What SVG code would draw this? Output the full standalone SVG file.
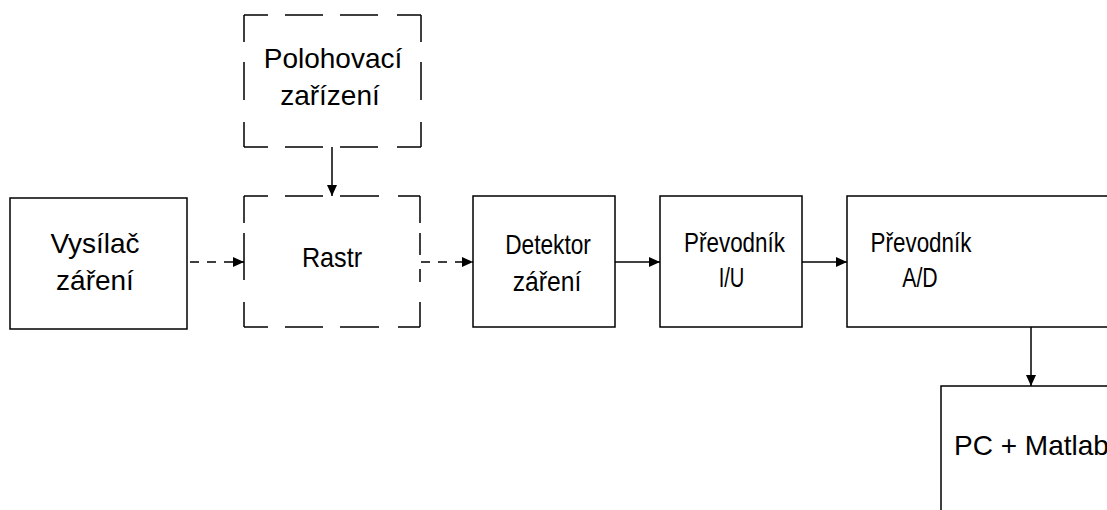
<svg xmlns="http://www.w3.org/2000/svg" width="1107" height="510" viewBox="0 0 1107 510">
<style>
.box{fill:#fff;stroke:#000;stroke-width:1.5}
.dbox{fill:none;stroke:#000;stroke-width:1.5}
.t{font-family:"Liberation Sans",Arial,sans-serif;font-size:28px;fill:#000;text-anchor:middle}
.c{fill:none;stroke:#000;stroke-width:1.5}
.dash{stroke-dasharray:9 8}
</style>
<defs>
<marker id="ah" viewBox="0 0 11 10" refX="11" refY="5" markerWidth="11" markerHeight="10" orient="auto" markerUnits="userSpaceOnUse"><path d="M0,0 L11,5 L0,10 z" fill="#000"/></marker>
</defs>
<rect width="1107" height="510" fill="#fff"/>
<g id="vysilac">
<rect class="box" x="10" y="198" width="177" height="131"/>
<text class="t" x="95" y="253">Vysílač</text>
<text class="t" x="95" y="290">záření</text>
</g>
<g id="polohovaci">
<path class="dbox" d="M244,15H268M285,15H323M340,15H378M397,15H421M244,147H268M285,147H323M340,147H378M397,147H421M244,15V42M244,62V100M244,122V147M421,15V42M421,62V100M421,122V147"/>
<text class="t" x="333" y="68">Polohovací</text>
<text class="t" x="330" y="105">zařízení</text>
</g>
<g id="rastr">
<path class="dbox" d="M244,196H268M285,196H323M340,196H379M398,196H420M244,327H268M285,327H323M340,327H379M398,327H420M244,196V223M244,233V280M244,302V327M420,196V223M420,233V255M420,269V282M420,302V327"/>
<text class="t" transform="translate(332,267) scale(0.9,1)">Rastr</text>
</g>
<g id="detektor">
<rect class="box" x="473" y="196" width="142" height="131"/>
<text class="t" transform="translate(548,254) scale(0.81,1)">Detektor</text>
<text class="t" transform="translate(547,291) scale(0.88,1)">záření</text>
</g>
<g id="prevodnik-iu">
<rect class="box" x="660" y="196" width="142" height="131"/>
<text class="t" transform="translate(734.5,252) scale(0.8,1)">Převodník</text>
<text class="t" transform="translate(731.5,287) scale(0.72,1)">I/U</text>
</g>
<g id="prevodnik-ad">
<rect class="box" x="847" y="196" width="300" height="131"/>
<text class="t" transform="translate(921,252) scale(0.8,1)">Převodník</text>
<text class="t" transform="translate(920,287) scale(0.76,1)">A/D</text>
</g>
<g id="pc">
<rect class="box" x="941" y="386" width="300" height="200"/>
<text class="t" x="954" y="455" style="text-anchor:start">PC + Matlab</text>
</g>
<g id="connectors">
<line class="c dash" x1="190" y1="262" x2="244" y2="262" marker-end="url(#ah)"/>
<line class="c dash" x1="421" y1="262" x2="473" y2="262" marker-end="url(#ah)"/>
<line class="c" x1="615" y1="262" x2="660" y2="262" marker-end="url(#ah)"/>
<line class="c" x1="802" y1="262" x2="847" y2="262" marker-end="url(#ah)"/>
<line class="c" x1="332" y1="147" x2="332" y2="196" marker-end="url(#ah)"/>
<line class="c" x1="1031" y1="327" x2="1031" y2="386" marker-end="url(#ah)"/>
</g>
</svg>
